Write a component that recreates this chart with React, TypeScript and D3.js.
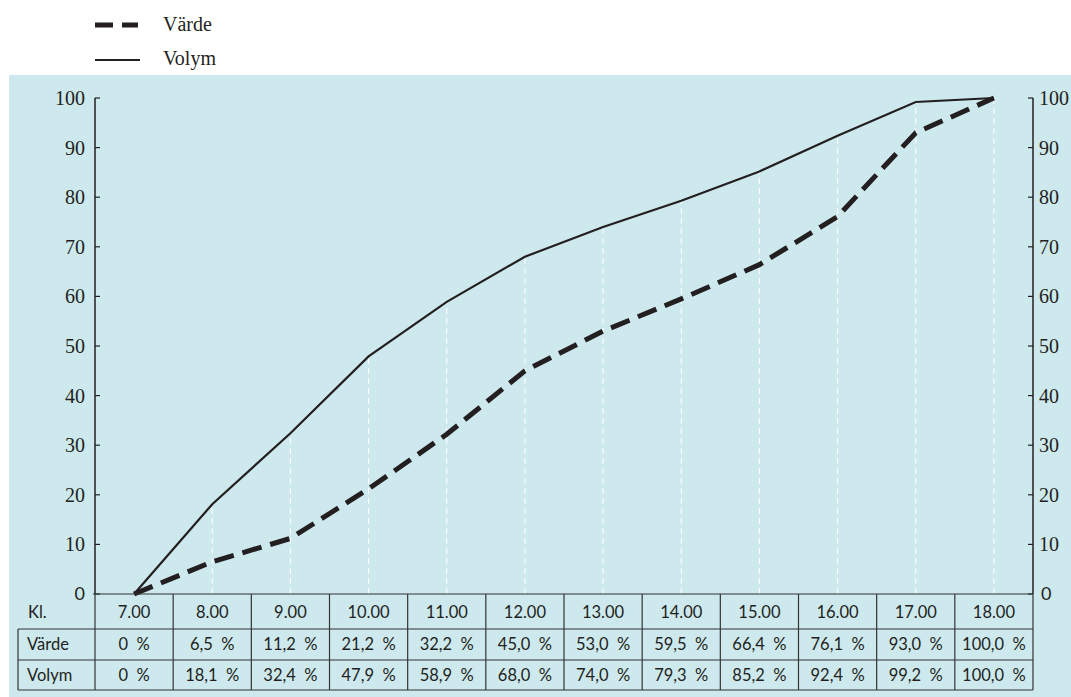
import React from "react";
import * as d3 from "d3";

const hours = ["7.00", "8.00", "9.00", "10.00", "11.00", "12.00", "13.00", "14.00", "15.00", "16.00", "17.00", "18.00"];
const varde = [0, 6.5, 11.2, 21.2, 32.2, 45.0, 53.0, 59.5, 66.4, 76.1, 93.0, 100.0];
const volym = [0, 18.1, 32.4, 47.9, 58.9, 68.0, 74.0, 79.3, 85.2, 92.4, 99.2, 100.0];
const yTicks = [0, 10, 20, 30, 40, 50, 60, 70, 80, 90, 100];
const rowLabels = ["Värde", "Volym"];

const fmt = (v: number) => (v === 0 ? "0  %" : v.toFixed(1).replace(".", ",") + "  %");

export default function App() {
  const W = 1071, H = 697;
  const left = 95, right = 1033;
  const top = 98, bottom = 594;
  const x = d3.scaleBand<string>().domain(hours).range([left, right]).padding(0);
  const cx = (h: string) => (x(h) as number) + x.bandwidth() / 2;
  const y = d3.scaleLinear().domain([0, 100]).range([bottom, top]);
  const line = d3.line<number>().x((_, i) => cx(hours[i])).y((d) => y(d));
  const serif = "'Liberation Serif', 'DejaVu Serif', serif";
  const sans = "Lato, 'Open Sans', sans-serif";
  const ink = "#231f20";
  const grid = "#333";
  const rowY = [594, 629, 660, 690];
  const tableLeft = 18;
  const tfs = 16.5;

  return (
    <svg width={W} height={H} style={{ position: "absolute", left: 0, top: 0 }}>
      <rect x={0} y={0} width={W} height={H} fill="#fff" />
      <rect x={9} y={75} width={W - 9} height={H - 75} fill="#cde9ee" />
      {/* legend */}
      <line x1={95} x2={138} y1={25} y2={25} stroke={ink} strokeWidth={5} strokeDasharray="18,9" />
      <text x={163} y={31} fontFamily={serif} fontSize={20} fill={ink}>Värde</text>
      <line x1={95} x2={140} y1={60} y2={60} stroke={ink} strokeWidth={2} />
      <text x={163} y={65} fontFamily={serif} fontSize={20} fill={ink}>Volym</text>

      {/* white dashed gridlines */}
      {hours.map((h, i) =>
        volym[i] > 0 ? (
          <line key={h} x1={cx(h)} x2={cx(h)} y1={bottom} y2={y(volym[i])} stroke="#fff" strokeWidth={1} strokeDasharray="6,4" />
        ) : null
      )}

      {/* axes */}
      <line x1={left} x2={left} y1={top} y2={bottom} stroke={ink} strokeWidth={1.5} />
      <line x1={right} x2={right} y1={top} y2={bottom} stroke={ink} strokeWidth={1.5} />
      {yTicks.map((t) => (
        <g key={t}>
          <line x1={left} x2={left + 5} y1={y(t)} y2={y(t)} stroke={ink} strokeWidth={1.2} />
          <line x1={right - 5} x2={right} y1={y(t)} y2={y(t)} stroke={ink} strokeWidth={1.2} />
          {t > 0 ? (
            <>
              <text x={85} y={y(t) + 7} textAnchor="end" fontFamily={serif} fontSize={20} fill={ink}>{t}</text>
              <text x={1039} y={y(t) + 7} fontFamily={serif} fontSize={20} fill={ink}>{t}</text>
            </>
          ) : (
            <>
              <text x={85} y={y(t) + 6} textAnchor="end" fontFamily={sans} fontSize={18} fill={ink}>{t}</text>
              <text x={1041} y={y(t) + 6} fontFamily={sans} fontSize={18} fill={ink}>{t}</text>
            </>
          )}
        </g>
      ))}

      {/* data lines */}
      <path d={line(volym) || ""} fill="none" stroke={ink} strokeWidth={2.2} />
      <path d={line(varde) || ""} fill="none" stroke={ink} strokeWidth={5} strokeDasharray="20,9" />

      {/* table */}
      <line x1={left - 2} x2={right} y1={rowY[0]} y2={rowY[0]} stroke={grid} strokeWidth={1.2} />
      {rowY.slice(1).map((ry) => (
        <line key={ry} x1={tableLeft} x2={right} y1={ry} y2={ry} stroke={grid} strokeWidth={1.2} />
      ))}
      <line x1={tableLeft} x2={tableLeft} y1={rowY[1]} y2={rowY[3]} stroke={grid} strokeWidth={1.2} />
      {hours.map((h) => (
        <line key={"v" + h} x1={x(h) as number} x2={x(h) as number} y1={rowY[0]} y2={rowY[3]} stroke={grid} strokeWidth={1.2} />
      ))}
      <line x1={right} x2={right} y1={rowY[0]} y2={rowY[3]} stroke={grid} strokeWidth={1.2} />
      <text x={28} y={618} fontFamily={sans} fontSize={tfs} fill={ink}>Kl.</text>
      <text x={27} y={650} fontFamily={sans} fontSize={tfs} fill={ink}>{rowLabels[0]}</text>
      <text x={27} y={681} fontFamily={sans} fontSize={tfs} fill={ink}>{rowLabels[1]}</text>
      {hours.map((h, i) => (
        <g key={"t" + h}>
          <text x={cx(h)} y={618} textAnchor="middle" fontFamily={sans} fontSize={tfs} fill={ink}>{h}</text>
          <text x={cx(h)} y={650} textAnchor="middle" fontFamily={sans} fontSize={tfs} fill={ink} style={{ whiteSpace: "pre" }}>{fmt(varde[i])}</text>
          <text x={cx(h)} y={681} textAnchor="middle" fontFamily={sans} fontSize={tfs} fill={ink} style={{ whiteSpace: "pre" }}>{fmt(volym[i])}</text>
        </g>
      ))}
    </svg>
  );
}
